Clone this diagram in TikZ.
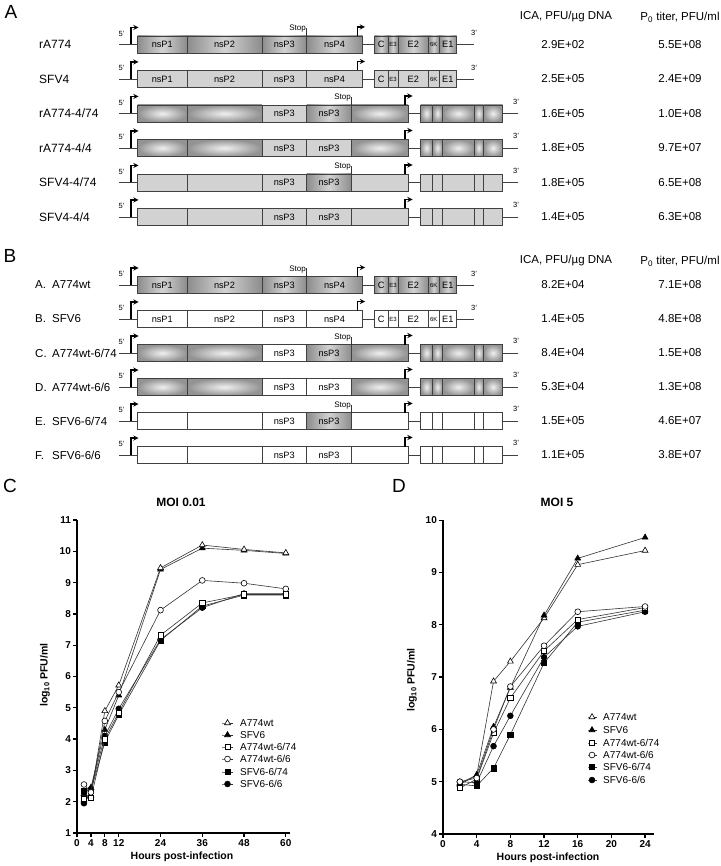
\documentclass[tikz,border=0pt]{standalone}
\usepackage{fontspec}
\setmainfont{Liberation Sans}
\usetikzlibrary{calc,positioning,plotmarks}

\tikzset{
  seg/.style={draw=black!75, line width=0.7pt, inner sep=0pt, outer sep=0pt,
    minimum height=17pt, anchor=west, font=\fontsize{9.2}{10}\selectfont},
  gradseg/.style={seg, left color=gray!90, right color=gray!90, middle color=gray!35},
  radseg/.style={seg, inner color=gray!12, outer color=gray!85},
  flatseg/.style={seg, fill=gray!35},
  whiteseg/.style={seg, fill=white},
  smallseg/.style={font=\fontsize{6}{6}\selectfont},
  rna/.style={draw=black!75, line width=0.7pt},
  prom/.style={line width=1.3pt, ->, >=stealth},
  stoptick/.style={draw=black!80, line width=0.5pt},
  stoplbl/.style={inner sep=0pt, font=\fontsize{8}{9}\selectfont},
  endlbl/.style={inner sep=0pt, font=\fontsize{7.5}{8}\selectfont},
  rowlbl/.style={anchor=west, inner sep=0pt, font=\fontsize{12}{14}\selectfont},
  val/.style={inner sep=0pt, font=\fontsize{11.5}{13}\selectfont},
  panel/.style={inner sep=0pt, font=\fontsize{19}{22}\selectfont},
  plotaxis/.style={line width=1.3pt},
  ticklbl/.style={inner sep=1.5pt, font=\bfseries\fontsize{10}{11}\selectfont},
  axlbl/.style={inner sep=0pt, font=\bfseries\fontsize{10.5}{12}\selectfont},
  ttl/.style={inner sep=0pt, font=\bfseries\fontsize{12}{14}\selectfont},
  leglbl/.style={anchor=west, inner sep=0pt, font=\fontsize{10}{11}\selectfont},
  dat/.style={draw=black!80, line width=0.6pt,
    every mark/.append style={draw=black, line width=0.6pt, solid}},
  mA/.style={mark=triangle*, mark size=3.4pt, every mark/.append style={fill=white}},
  mB/.style={mark=triangle*, mark size=3.4pt, every mark/.append style={fill=black}},
  mC/.style={mark=square*, mark size=2.7pt, every mark/.append style={fill=white}},
  mD/.style={mark=*, mark size=2.9pt, every mark/.append style={fill=white}},
  mE/.style={mark=square*, mark size=2.7pt, every mark/.append style={fill=black}},
  mF/.style={mark=*, mark size=2.9pt, every mark/.append style={fill=black}}
}

% full genome: name, y, style
\newcommand{\shortrow}[3]{%
  \coordinate (#1-5) at (119,#2);
  \coordinate (#1-3) at (474,#2);
  \node[#3, minimum width=49.5] (#1-p1) at (137.5,#2) {nsP1};
  \node[#3, minimum width=75] (#1-p2) at (#1-p1.east) {nsP2};
  \node[#3, minimum width=44.5] (#1-p3) at (#1-p2.east) {nsP3};
  \node[#3, minimum width=56] (#1-p4) at (#1-p3.east) {nsP4};
  \node[#3, minimum width=13.5] (#1-c) at (374.5,#2) {C};
  \node[#3, minimum width=10, smallseg] (#1-e3) at (#1-c.east) {E3};
  \node[#3, minimum width=30.5] (#1-e2) at (#1-e3.east) {E2};
  \node[#3, minimum width=10.5, smallseg] (#1-6k) at (#1-e2.east) {6K};
  \node[#3, minimum width=17.5] (#1-e1) at (#1-6k.east) {E1};
  \draw[rna] (#1-5) -- (#1-p1);
  \draw[rna] (#1-p4) -- (#1-c);
  \draw[rna] (#1-e1) -- (#1-3);
  \draw[prom] ($(#1-p1.west)+(-6.5,0)$) -- ++(0,-17) -- ++(7.5,0);
  \draw[prom] ($(#1-p4.north east)+(-5,0)$) -- ++(0,-9) -- ++(7.5,0);
  \node[endlbl] (#1-5l) at (121.5,#2-11) {5'};
  \node[endlbl] (#1-3l) at (474,#2-11.5) {3'};
}

% chimeric genome: name, y, outer style, nsP3 style, second nsP3 style
\newcommand{\longrow}[5]{%
  \coordinate (#1-5) at (119,#2);
  \coordinate (#1-3) at (518,#2);
  \node[#3, minimum width=49.5] (#1-p1) at (137.5,#2) {};
  \node[#3, minimum width=75] (#1-p2) at (#1-p1.east) {};
  \node[#4, minimum width=44.5] (#1-p3) at (#1-p2.east) {nsP3};
  \node[#5, minimum width=45] (#1-p4) at (#1-p3.east) {nsP3};
  \node[#3, minimum width=56.5] (#1-p5) at (#1-p4.east) {};
  \node[#3, minimum width=12] (#1-s1) at (420.5,#2) {};
  \node[#3, minimum width=10] (#1-s2) at (#1-s1.east) {};
  \node[#3, minimum width=31.5] (#1-s3) at (#1-s2.east) {};
  \node[#3, minimum width=9.5] (#1-s4) at (#1-s3.east) {};
  \node[#3, minimum width=19] (#1-s5) at (#1-s4.east) {};
  \draw[rna] (#1-5) -- (#1-p1);
  \draw[rna] (#1-p5) -- (#1-s1);
  \draw[rna] (#1-s5) -- (#1-3);
  \draw[prom] ($(#1-p1.west)+(-6.5,0)$) -- ++(0,-17) -- ++(7.5,0);
  \draw[prom] ($(#1-p5.north east)+(-3,0)$) -- ++(0,-9) -- ++(7.5,0);
  \node[endlbl] (#1-5l) at (121.5,#2-11) {5'};
  \node[endlbl] (#1-3l) at (516,#2-12) {3'};
}

% stop codon mark on the right edge of a segment
\newcommand{\stopmark}[2]{%
  \draw[stoptick] (#2.north east) -- ++(0,-8) coordinate (#1-stp);
  \node[stoplbl, anchor=base east] (#1-stop) at ($(#1-stp)+(-0.5,3)$) {Stop};
}

\begin{document}
\begin{tikzpicture}[x=1pt, y=-1pt]
  \path[fill=white, use as bounding box] (0,0) rectangle (720,866);

  % panel A
  \node[panel] (pA) at (11,12) {A};
  \node[val] (hA-ica) at (566,17) {ICA, PFU/µg DNA};
  \node[val] (hA-p0) at (680,17) {P\textsubscript{0} titer, PFU/ml};

  \node[rowlbl] (l-ra774) at (39,44.5) {rA774};
  \shortrow{ra774}{44.5}{gradseg}
  \stopmark{ra774}{ra774-p3}
  \node[val] (ica-ra774) at (563,44.5) {2.9E+02};
  \node[val] (p0-ra774) at (680,44.5) {5.5E+08};

  \node[rowlbl] (l-sfv4) at (39,79) {SFV4};
  \shortrow{sfv4}{79}{flatseg}
  \node[val] (ica-sfv4) at (563,79) {2.5E+05};
  \node[val] (p0-sfv4) at (680,79) {2.4E+09};

  \node[rowlbl] (l-ra4-74) at (39,113.5) {rA774-4/74};
  \longrow{ra4-74}{113.5}{radseg}{flatseg}{gradseg}
  \stopmark{ra4-74}{ra4-74-p4}
  \node[val] (ica-ra4-74) at (563,113.5) {1.6E+05};
  \node[val] (p0-ra4-74) at (680,113.5) {1.0E+08};

  \node[rowlbl] (l-ra4-4) at (39,148) {rA774-4/4};
  \longrow{ra4-4}{148}{radseg}{flatseg}{flatseg}
  \node[val] (ica-ra4-4) at (563,148) {1.8E+05};
  \node[val] (p0-ra4-4) at (680,148) {9.7E+07};

  \node[rowlbl] (l-sf4-74) at (39,182.5) {SFV4-4/74};
  \longrow{sf4-74}{182.5}{flatseg}{flatseg}{gradseg}
  \stopmark{sf4-74}{sf4-74-p4}
  \node[val] (ica-sf4-74) at (563,182.5) {1.8E+05};
  \node[val] (p0-sf4-74) at (680,182.5) {6.5E+08};

  \node[rowlbl] (l-sf4-4) at (39,217) {SFV4-4/4};
  \longrow{sf4-4}{217}{flatseg}{flatseg}{flatseg}
  \node[val] (ica-sf4-4) at (563,217) {1.4E+05};
  \node[val] (p0-sf4-4) at (680,217) {6.3E+08};

  % panel B
  \node[panel] (pB) at (10,256) {B};
  \node[val] (hB-ica) at (566,261) {ICA, PFU/µg DNA};
  \node[val] (hB-p0) at (680,261) {P\textsubscript{0} titer, PFU/ml};

  \node[rowlbl, font=\fontsize{11.5}{13}\selectfont] (l-a774wt) at (35,285) {\makebox[17pt][l]{A.}A774wt};
  \shortrow{a774wt}{285}{gradseg}
  \stopmark{a774wt}{a774wt-p3}
  \node[val] (ica-a774wt) at (563,285) {8.2E+04};
  \node[val] (p0-a774wt) at (680,285) {7.1E+08};

  \node[rowlbl, font=\fontsize{11.5}{13}\selectfont] (l-sfv6) at (35,319) {\makebox[17pt][l]{B.}SFV6};
  \shortrow{sfv6}{319}{whiteseg}
  \node[val] (ica-sfv6) at (563,319) {1.4E+05};
  \node[val] (p0-sfv6) at (680,319) {4.8E+08};

  \node[rowlbl, font=\fontsize{11.5}{13}\selectfont] (l-a6-74) at (35,353) {\makebox[17pt][l]{C.}A774wt-6/74};
  \longrow{a6-74}{353}{radseg}{whiteseg}{gradseg}
  \stopmark{a6-74}{a6-74-p4}
  \node[val] (ica-a6-74) at (563,353) {8.4E+04};
  \node[val] (p0-a6-74) at (680,353) {1.5E+08};

  \node[rowlbl, font=\fontsize{11.5}{13}\selectfont] (l-a6-6) at (35,387) {\makebox[17pt][l]{D.}A774wt-6/6};
  \longrow{a6-6}{387}{radseg}{whiteseg}{whiteseg}
  \node[val] (ica-a6-6) at (563,387) {5.3E+04};
  \node[val] (p0-a6-6) at (680,387) {1.3E+08};

  \node[rowlbl, font=\fontsize{11.5}{13}\selectfont] (l-s6-74) at (35,421) {\makebox[17pt][l]{E.}SFV6-6/74};
  \longrow{s6-74}{421}{whiteseg}{whiteseg}{gradseg}
  \stopmark{s6-74}{s6-74-p4}
  \node[val] (ica-s6-74) at (563,421) {1.5E+05};
  \node[val] (p0-s6-74) at (680,421) {4.6E+07};

  \node[rowlbl, font=\fontsize{11.5}{13}\selectfont] (l-s6-6) at (35,455) {\makebox[17pt][l]{F.}SFV6-6/6};
  \longrow{s6-6}{455}{whiteseg}{whiteseg}{whiteseg}
  \node[val] (ica-s6-6) at (563,455) {1.1E+05};
  \node[val] (p0-s6-6) at (680,455) {3.8E+07};

  % panel C: MOI 0.01
  \node[panel] (pC) at (10,486) {C};
  \node[ttl] (tC) at (181,502) {MOI 0.01};
  \node[axlbl, rotate=90] (yC) at (45,675) {log\textsubscript{10} PFU/ml};
  \node[axlbl] (xC) at (182,857) {Hours post-infection};
  \begin{scope}[shift={(77,864.3)}, x=3.48pt, y=31.3pt]
    \draw[plotaxis] (0,11) -- (0,1) -- (61.2,1);
    \foreach \v in {1,...,11}
      \draw[plotaxis] (0,\v) -- ++(-4pt,0pt) node[left, ticklbl] (cy\v) {\v};
    \foreach \t in {0,4,8,12,24,36,48,60}
      \draw[plotaxis] (\t,1) -- ++(0pt,-4pt) node[below, ticklbl] (cx\t) {\t};
    \draw[dat, mB] plot coordinates {(2,2.25) (4,2.45) (8,4.3) (12,5.4) (24,9.42) (36,10.1) (48,10.03) (60,9.93)};
    \draw[dat, mA] plot coordinates {(2,2.05) (4,2.2) (8,4.9) (12,5.72) (24,9.47) (36,10.2) (48,10.06) (60,9.95)};
    \draw[dat, mE] plot coordinates {(2,2.35) (4,2.35) (8,3.9) (12,4.78) (24,7.15) (36,8.25) (48,8.6) (60,8.6)};
    \draw[dat, mF] plot coordinates {(2,1.95) (4,2.4) (8,4.1) (12,4.97) (24,7.18) (36,8.2) (48,8.65) (60,8.65)};
    \draw[dat, mC] plot coordinates {(2,2.1) (4,2.12) (8,4.0) (12,4.85) (24,7.32) (36,8.35) (48,8.62) (60,8.62)};
    \draw[dat, mD] plot coordinates {(2,2.55) (4,2.3) (8,4.58) (12,5.5) (24,8.12) (36,9.07) (48,8.98) (60,8.8)};
  \end{scope}
  \foreach \s/\lbl/\y [count=\i] in {mA/A774wt/723, mB/SFV6/735, mC/{A774wt-6/74}/747,
      mD/{A774wt-6/6}/759, mE/{SFV6-6/74}/772, mF/{SFV6-6/6}/784} {
    \draw[dat, \s, mark indices={2}] plot coordinates {(222,\y) (227.5,\y) (233,\y)};
    \node[leglbl] (cl\i) at (240,\y) {\lbl};
  }

  % panel D: MOI 5
  \node[panel] (pD) at (399,486) {D};
  \node[ttl] (tD) at (557,502) {MOI 5};
  \node[axlbl, rotate=90] (yD) at (412,680) {log\textsubscript{10} PFU/ml};
  \node[axlbl] (xD) at (548,858) {Hours post-infection};
  \begin{scope}[shift={(443,1043.2)}, x=8.42pt, y=52.3pt]
    \draw[plotaxis] (0,10) -- (0,4) -- (25,4);
    \foreach \v in {4,...,10}
      \draw[plotaxis] (0,\v) -- ++(-4pt,0pt) node[left, ticklbl] (dy\v) {\v};
    \foreach \t in {0,4,...,24}
      \draw[plotaxis] (\t,4) -- ++(0pt,-4pt) node[below, ticklbl] (dx\t) {\t};
    \draw[dat, mA] plot coordinates {(2,4.95) (4,5.12) (6,6.92) (8,7.3) (12,8.13) (16,9.15) (24,9.42)};
    \draw[dat, mB] plot coordinates {(2,4.97) (4,5.13) (6,6.05) (8,6.8) (12,8.18) (16,9.27) (24,9.67)};
    \draw[dat, mE] plot coordinates {(2,4.95) (4,4.92) (6,5.26) (8,5.9) (12,7.27) (16,8.05) (24,8.28)};
    \draw[dat, mF] plot coordinates {(2,5.0) (4,4.98) (6,5.68) (8,6.26) (12,7.38) (16,7.97) (24,8.25)};
    \draw[dat, mC] plot coordinates {(2,4.88) (4,5.05) (6,5.93) (8,6.6) (12,7.5) (16,8.1) (24,8.33)};
    \draw[dat, mD] plot coordinates {(2,5.0) (4,5.07) (6,6.0) (8,6.82) (12,7.6) (16,8.25) (24,8.35)};
  \end{scope}
  \foreach \s/\lbl/\y [count=\i] in {mA/A774wt/717, mB/SFV6/730, mC/{A774wt-6/74}/743,
      mD/{A774wt-6/6}/755, mE/{SFV6-6/74}/767, mF/{SFV6-6/6}/780} {
    \draw[dat, \s, mark indices={2}] plot coordinates {(588,\y) (592,\y) (597,\y)};
    \node[leglbl] (dl\i) at (603,\y) {\lbl};
  }
\end{tikzpicture}
\end{document}
